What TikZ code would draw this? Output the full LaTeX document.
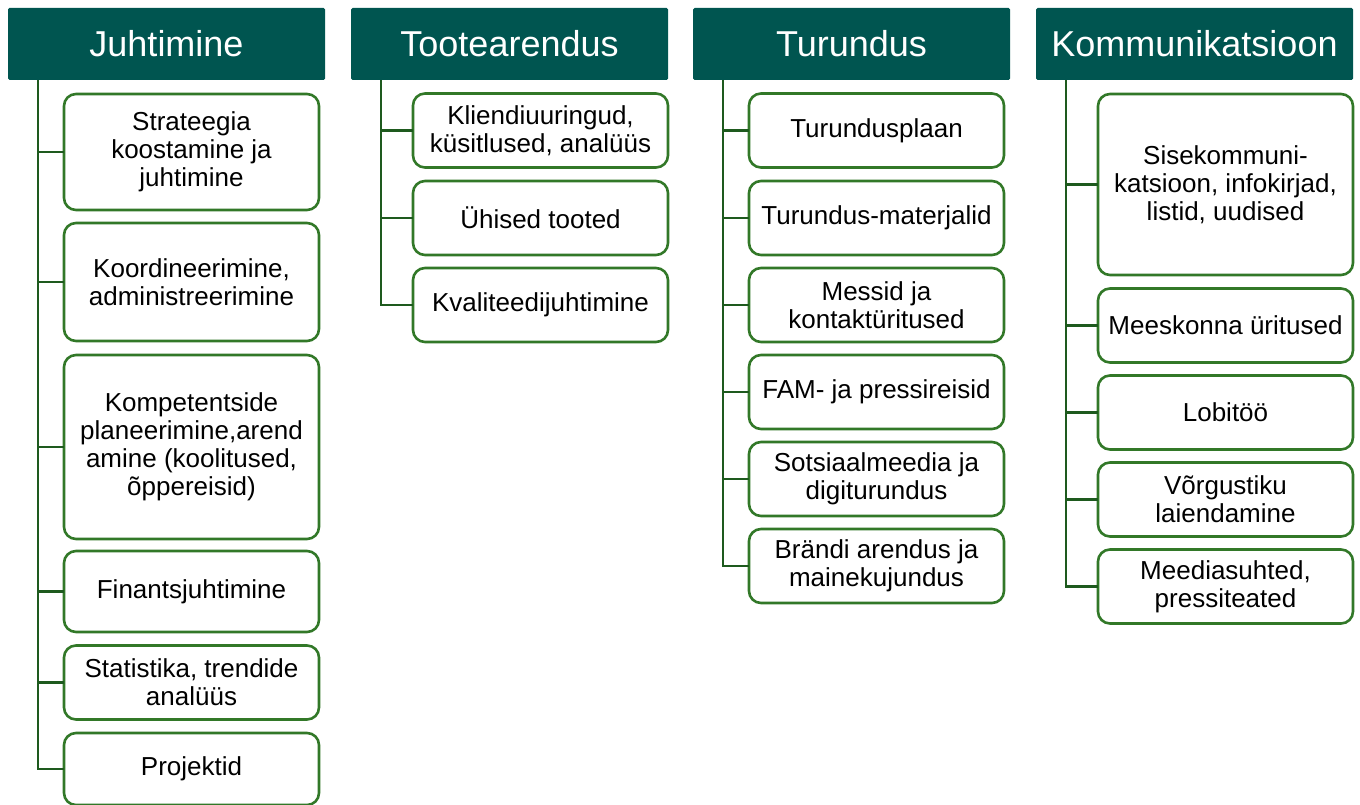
\documentclass[tikz,border=0pt]{standalone}
\usepackage{fontspec}
\setmainfont{Liberation Sans}
\definecolor{headgreen}{RGB}{0,85,80}
\definecolor{boxgreen}{RGB}{50,120,40}
\definecolor{linkgreen}{RGB}{30,90,30}
\begin{document}
\begin{tikzpicture}[x=1pt,y=-1pt,inner sep=0pt,outer sep=0pt,
head/.style={fill=headgreen,text=white,rectangle,rounded corners=1.5pt,minimum width=317pt,minimum height=72pt,font=\fontsize{36}{40}\selectfont},
item/.style={draw=boxgreen,fill=white,rectangle,rounded corners=12pt,line width=2.6pt,minimum width=255pt,minimum height=74pt,align=center,font=\fontsize{26}{28}\selectfont},
link/.style={draw=linkgreen,line width=2.8pt}]
\useasboundingbox (0,0) rectangle (1360,805);
% headers
\draw (166.5,44) node[head] (J) {Juhtimine};
\draw (509.5,44) node[head] (T) {Tootearendus};
\draw (851.5,44) node[head] (U) {Turundus};
\draw (1194.5,44) node[head] (K) {Kommunikatsioon};
% Juhtimine
\draw (191.5,152) node[item,minimum height=116pt] (j1) {Strateegia\\koostamine ja\\juhtimine};
\draw (191.5,282) node[item,minimum height=118pt] (j2) {Koordineerimine,\\administreerimine};
\draw (191.5,447) node[item,minimum height=184pt] (j3) {Kompetentside\\planeerimine,arend\\amine (koolitused,\\õppereisid)};
\draw (191.5,591.5) node[item,minimum height=81pt] (j4) {Finantsjuhtimine};
\draw (191.5,682.5) node[item] (j5) {Statistika, trendide\\analüüs};
\draw (191.5,769) node[item,minimum height=72pt] (j6) {Projektid};
% Tootearendus
\draw (540.5,130.5) node[item] (t1) {Kliendiuuringud,\\küsitlused, analüüs};
\draw (540.5,218) node[item] (t2) {Ühised tooted};
\draw (540.5,305) node[item] (t3) {Kvaliteedijuhtimine};
% Turundus
\draw (876.5,130.5) node[item] (u1) {Turundusplaan};
\draw (876.5,218) node[item] (u2) {Turundus-materjalid};
\draw (876.5,305) node[item] (u3) {Messid ja\\kontaktüritused};
\draw (876.5,392) node[item] (u4) {FAM- ja pressireisid};
\draw (876.5,479) node[item] (u5) {Sotsiaalmeedia ja\\digiturundus};
\draw (876.5,566) node[item] (u6) {Brändi arendus ja\\mainekujundus};
% Kommunikatsioon
\draw (1225.5,184.5) node[item,minimum height=181pt] (k1) {Sisekommuni-\\katsioon, infokirjad,\\listid, uudised};
\draw (1225.5,325.5) node[item] (k2) {Meeskonna üritused};
\draw (1225.5,412.5) node[item] (k3) {Lobitöö};
\draw (1225.5,499.5) node[item] (k4) {Võrgustiku\\laiendamine};
\draw (1225.5,586.5) node[item] (k5) {Meediasuhted,\\pressiteated};
% trunks and branches
\coordinate (jt) at (38,80);
\coordinate (tt) at (381,80);
\coordinate (ut) at (723,80);
\coordinate (kt) at (1066,80);
\draw[link] (jt) |- (j6.west);
\foreach \b in {j1,j2,j3,j4,j5} \draw[link] (jt |- \b.west) -- (\b.west);
\draw[link] (tt) |- (t3.west);
\foreach \b in {t1,t2} \draw[link] (tt |- \b.west) -- (\b.west);
\draw[link] (ut) |- (u6.west);
\foreach \b in {u1,u2,u3,u4,u5} \draw[link] (ut |- \b.west) -- (\b.west);
\draw[link] (kt) |- (k5.west);
\foreach \b in {k1,k2,k3,k4} \draw[link] (kt |- \b.west) -- (\b.west);
\end{tikzpicture}
\end{document}
